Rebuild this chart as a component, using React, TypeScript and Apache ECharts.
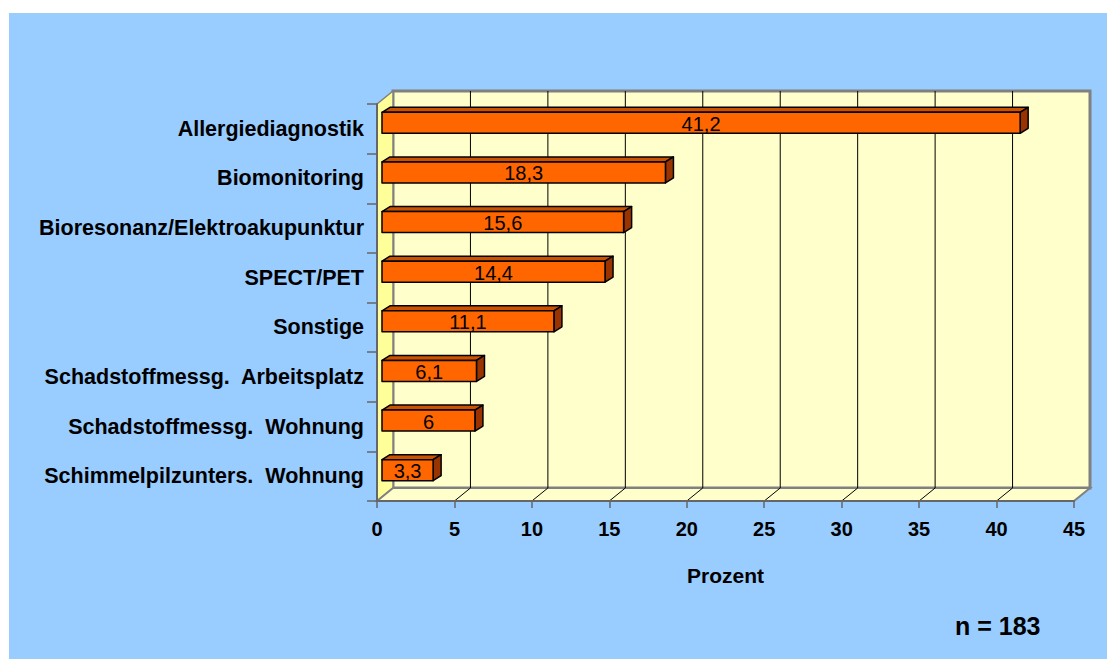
import React, { useEffect, useRef } from "react";
import * as echarts from "echarts";

const categories: string[] = [
  "Allergiediagnostik",
  "Biomonitoring",
  "Bioresonanz/Elektroakupunktur",
  "SPECT/PET",
  "Sonstige",
  "Schadstoffmessg.  Arbeitsplatz",
  "Schadstoffmessg.  Wohnung",
  "Schimmelpilzunters.  Wohnung",
];
const values: number[] = [41.2, 18.3, 15.6, 14.4, 11.1, 6.1, 6, 3.3];
const gridTicks: number[] = [5, 10, 15, 20, 25, 30, 35, 40];
const axisName = "Prozent";
const noteText = "n = 183";

const DX = 16;
const DY = 13;

export default function App() {
  const ref = useRef<HTMLDivElement>(null);
  useEffect(() => {
    if (!ref.current) return;
    const chart = echarts.init(ref.current, undefined, { renderer: "svg" });
    const font = "Liberation Sans, Arial, sans-serif";
    const option: any = {
      animation: false,
      backgroundColor: "#99CCFF",
      grid: { left: 368, top: 91, right: 33, bottom: 158, containLabel: false },
      xAxis: {
        type: "value",
        min: 0,
        max: 45,
        interval: 5,
        z: 5,
        name: axisName,
        nameLocation: "middle",
        nameGap: 64,
        nameTextStyle: { fontFamily: font, fontWeight: "bold", fontSize: 21, color: "#000" },
        axisLine: { show: true, lineStyle: { color: "#666", width: 2 } },
        axisTick: { show: true, length: 7, lineStyle: { color: "#666", width: 1.5 } },
        axisLabel: { margin: 18, fontFamily: font, fontWeight: "bold", fontSize: 20, color: "#000" },
        splitLine: { show: false },
      },
      yAxis: {
        type: "category",
        data: categories,
        inverse: true,
        z: 5,
        axisLine: { show: true, lineStyle: { color: "#666", width: 2 } },
        axisTick: { show: true, length: 10, lineStyle: { color: "#666", width: 1.5 } },
        axisLabel: {
          margin: 13,
          fontFamily: font,
          fontWeight: "bold",
          fontSize: 21.5,
          color: "#000",
          padding: [0, 0, 4, 0],
        },
        splitLine: { show: false },
      },
      graphic: [
        {
          type: "text",
          left: 946,
          top: 600,
          style: { text: noteText, fontFamily: font, fontWeight: "bold", fontSize: 25, fill: "#000" },
        },
      ],
      series: [
        {
          type: "custom",
          silent: true,
          z: 1,
          clip: false,
          data: [[0, 0]],
          encode: { x: 0, y: 1 },
          renderItem: (params: any, api: any) => {
            const cs = params.coordSys;
            const L = cs.x;
            const T = cs.y;
            const R = cs.x + cs.width;
            const B = cs.y + cs.height;
            const children: any[] = [];
            children.push({
              type: "rect",
              shape: { x: L + DX, y: T - DY, width: cs.width, height: cs.height },
              style: { fill: "#FFFFCC", stroke: "#808080", lineWidth: 3 },
            });
            children.push({
              type: "polygon",
              shape: { points: [[L, T], [L + DX, T - DY], [L + DX, B - DY], [L, B]] },
              style: { fill: "#FFFF99", stroke: "#808080", lineWidth: 1.5 },
            });
            children.push({
              type: "polygon",
              shape: { points: [[L, B], [L + DX, B - DY], [R + DX, B - DY], [R, B]] },
              style: { fill: "#FFFFCC", stroke: "#808080", lineWidth: 2 },
            });
            gridTicks.forEach((t) => {
              const x = api.coord([t, 0])[0];
              children.push({
                type: "line",
                shape: { x1: x + DX, y1: T - DY, x2: x + DX, y2: B - DY },
                style: { stroke: "#000", lineWidth: 1 },
              });
              children.push({
                type: "line",
                shape: { x1: x, y1: B, x2: x + DX, y2: B - DY },
                style: { stroke: "#000", lineWidth: 1 },
              });
            });
            return { type: "group", children };
          },
        },
        {
          type: "custom",
          silent: true,
          z: 3,
          clip: false,
          data: values.map((v, i) => [v, i]),
          encode: { x: 0, y: 1 },
          renderItem: (params: any, api: any) => {
            const v = api.value(0);
            const ci = api.value(1);
            const p0 = api.coord([0, ci]);
            const p1 = api.coord([v, ci]);
            const x0 = p0[0] + 5;
            const x1 = p1[0] + 5;
            const yc = p0[1] - 6;
            const yT = yc - 10.5;
            const yB = yc + 10.5;
            const dx = 8;
            const dy = 5;
            const stroke = { stroke: "#000", lineWidth: 1.5, lineJoin: "round" };
            return {
              type: "group",
              children: [
                {
                  type: "polygon",
                  shape: { points: [[x0, yT], [x0 + dx, yT - dy], [x1 + dx, yT - dy], [x1, yT]] },
                  style: { fill: "#CC5200", ...stroke },
                },
                {
                  type: "polygon",
                  shape: { points: [[x1, yT], [x1 + dx, yT - dy], [x1 + dx, yB - dy], [x1, yB]] },
                  style: { fill: "#993300", ...stroke },
                },
                {
                  type: "rect",
                  shape: { x: x0, y: yT, width: x1 - x0, height: yB - yT },
                  style: { fill: "#FF6600", ...stroke },
                },
                {
                  type: "text",
                  style: {
                    text: String(v).replace(".", ","),
                    x: (x0 + x1) / 2,
                    y: yc + 1,
                    align: "center",
                    verticalAlign: "middle",
                    fontFamily: font,
                    fontSize: 20,
                    fill: "#000",
                  },
                },
              ],
            };
          },
        },
      ],
    };
    chart.setOption(option);
    return () => chart.dispose();
  }, []);
  return (
    <div
      ref={ref}
      style={{ position: "absolute", left: 9, top: 13, width: 1098, height: 646 }}
    />
  );
}
